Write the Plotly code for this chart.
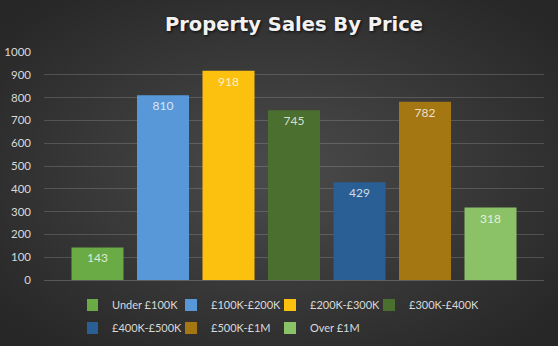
import base64
import plotly.graph_objects as go

categories = ["Under £100K", "£100K-£200K", "£200K-£300K", "£300K-£400K",
              "£400K-£500K", "£500K-£1M", "Over £1M"]
values = [143, 810, 918, 745, 429, 782, 318]
colors = ["#6aab45", "#5898d8", "#fcc10e", "#4a6f2e", "#2a5f96", "#a57712", "#8bc267"]
legend_ids = ["legend", "legend", "legend", "legend", "legend2", "legend2", "legend2"]
y_ticks = list(range(0, 1001, 100))

W, H = 558, 346
L, R, T, B = 44, 14, 52, 66
pw, ph = W - L - R, H - T - B

svg = (f'<svg xmlns="http://www.w3.org/2000/svg" width="{W}" height="{H}">'
       '<defs><radialGradient id="g" cx="50%" cy="50%" r="65%">'
       '<stop offset="0" stop-color="#4b4b4b"/><stop offset="1" stop-color="#272727"/>'
       '</radialGradient></defs>'
       f'<rect width="{W}" height="{H}" fill="url(#g)"/></svg>')
bg = "data:image/svg+xml;base64," + base64.b64encode(svg.encode()).decode()

fig = go.Figure()
for name, v, c, lg in zip(categories, values, colors, legend_ids):
    fig.add_trace(go.Bar(
        x=[""], y=[v], name=name, marker=dict(color=c, line=dict(width=0)),
        text=[str(v)], textposition="inside", insidetextanchor="end", textangle=0,
        textfont=dict(family="Lato, sans-serif", size=12, color="rgba(255,255,255,0.78)"),
        legend=lg,
    ))

legend_common = dict(
    orientation="h", xanchor="left", yanchor="middle",
    font=dict(family="Lato, sans-serif", size=11, color="#d9d9d9"),
    bgcolor="rgba(0,0,0,0)", itemwidth=30, indentation=-15, tracegroupgap=0,
    entrywidth=69, entrywidthmode="pixels",
)
leg_x = (87 - L) / pw

fig.update_layout(
    width=W, height=H,
    margin=dict(l=L, r=R, t=T, b=B, pad=0, autoexpand=False),
    paper_bgcolor="#333333", plot_bgcolor="rgba(0,0,0,0)",
    images=[dict(source=bg, xref="paper", yref="paper",
                 x=-L / pw, y=1 + T / ph, sizex=W / pw, sizey=H / ph,
                 xanchor="left", yanchor="top", sizing="stretch", layer="below")],
    title=dict(text="<b>Property Sales By Price</b>", x=0.5, xref="paper", xanchor="center",
               y=1 - 24 / H, yref="container", yanchor="middle",
               font=dict(family="DejaVu Sans, sans-serif", size=19.5, color="#f2f2f2",
                         shadow="1px 1px 3px rgba(0,0,0,0.8)")),
    barmode="group", bargap=0.083, bargroupgap=0.206,
    showlegend=True,
    legend=dict(x=leg_x, y=-(305 - (T + ph)) / ph, **legend_common),
    legend2=dict(x=leg_x, y=-(328 - (T + ph)) / ph, **legend_common),
    xaxis=dict(showticklabels=False, showgrid=False, zeroline=False, showline=False,
               fixedrange=True),
    yaxis=dict(range=[0, 1000], tickvals=y_ticks, showgrid=True,
               gridcolor="rgba(255,255,255,0.16)", gridwidth=1, zeroline=True,
               zerolinecolor="rgba(255,255,255,0.2)", zerolinewidth=1, showline=False,
               ticks="", ticklabelstandoff=12,
               tickfont=dict(family="Lato, sans-serif", size=11.5, color="#d9d9d9")),
)

fig.write_html("out.html")
